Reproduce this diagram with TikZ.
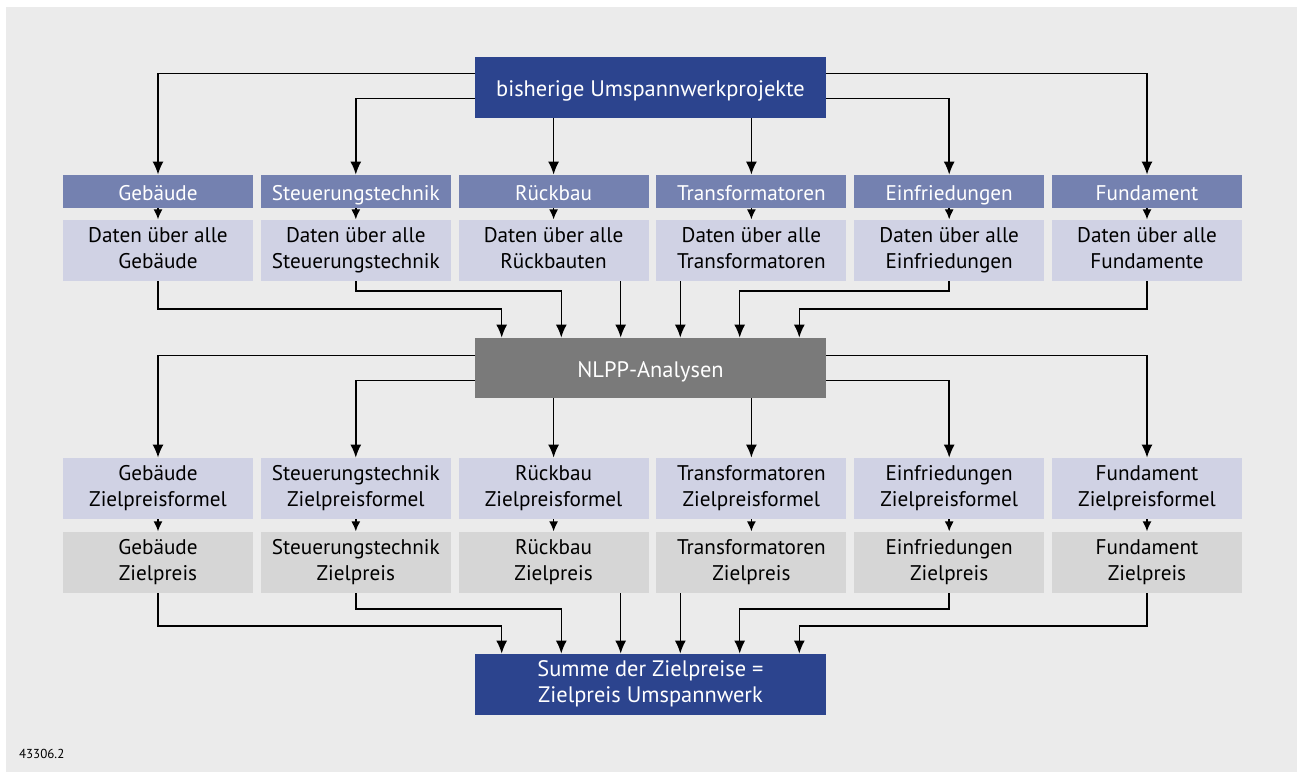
\documentclass[tikz,border=0pt]{standalone}
\usepackage{fontspec}
\setmainfont{PT Sans}
\usetikzlibrary{positioning, arrows.meta}
\definecolor{dunkelblau}{HTML}{2C448E}
\definecolor{mittelblau}{HTML}{7481B0}
\definecolor{hellblau}{HTML}{D0D2E4}
\definecolor{grau}{HTML}{7A7A7A}
\definecolor{hellgrau}{HTML}{D6D6D6}
\definecolor{hgrund}{HTML}{EBEBEB}
\newcommand{\zs}{\rule[-2.6pt]{0pt}{14.6pt}}

\begin{document}
\begin{tikzpicture}[
    x=0.5pt, y=-0.5pt,
    node distance=5.5pt and 3.5pt,
    font=\fontsize{10.6}{13}\selectfont,
    % Stile der Knoten
    box/.style={
        rectangle,
        inner sep=0pt,
        align=center,
        minimum width=95pt,
        execute at begin node=\zs,
        execute at end node=\zs
    },
    hauptbox/.style={box, fill=dunkelblau, text=white, minimum width=175.5pt, minimum height=30.5pt, font=\fontsize{11.2}{13}\selectfont},
    analyse/.style={box, fill=grau, text=white, minimum width=175.5pt, minimum height=30pt, font=\fontsize{11.2}{13}\selectfont},
    kategorie/.style={box, fill=mittelblau, text=white, minimum height=16.5pt},
    daten/.style={box, fill=hellblau, minimum height=30.5pt},
    formel/.style={box, fill=hellblau, minimum height=30.5pt},
    preis/.style={box, fill=hellgrau, minimum height=30.5pt},
    % Stile der Pfeile
    arrow/.style={-{Latex[length=6.5pt,width=5.5pt]}, line width=0.75pt},
    kurzpfeil/.style={-{Latex[length=5pt,width=4.5pt]}, line width=0.75pt}
]

\useasboundingbox (0,0) rectangle (1297,772);
\fill[hgrund] (6,7) rectangle (1297,772);

% -- Obere Reihe --
\node[hauptbox] (prj) at (650.5,87.5) {bisherige Umspannwerkprojekte};

% -- Kategorien --
\node[kategorie] (geb) at (158,191.5) {Gebäude};
\node[kategorie, right=of geb] (steu) {Steuerungstechnik};
\node[kategorie, right=of steu] (rueck) {Rückbau};
\node[kategorie, right=of rueck] (trafo) {Transformatoren};
\node[kategorie, right=of trafo] (einf) {Einfriedungen};
\node[kategorie, right=of einf] (fund) {Fundament};

\node[daten, below=of geb] (gebD) {Daten über alle\\Gebäude};
\node[daten, below=of steu] (steuD) {Daten über alle\\Steuerungstechnik};
\node[daten, below=of rueck] (rueckD) {Daten über alle\\Rückbauten};
\node[daten, below=of trafo] (trafoD) {Daten über alle\\Transformatoren};
\node[daten, below=of einf] (einfD) {Daten über alle\\Einfriedungen};
\node[daten, below=of fund] (fundD) {Daten über alle\\Fundamente};

% -- Mittlere Reihe --
\node[analyse] (nlpp) at (650.5,368) {NLPP-Analysen};

\coordinate (n1) at ([xshift=-74.4pt]nlpp.north);
\coordinate (n2) at ([xshift=-44.6pt]nlpp.north);
\coordinate (n3) at ([xshift=-14.9pt]nlpp.north);
\coordinate (n4) at ([xshift=14.9pt]nlpp.north);
\coordinate (n5) at ([xshift=44.6pt]nlpp.north);
\coordinate (n6) at ([xshift=74.4pt]nlpp.north);

% -- Zielpreisformeln --
\node[formel] (gebF) at (158,488.5) {Gebäude\\Zielpreisformel};
\node[formel, right=of gebF] (steuF) {Steuerungstechnik\\Zielpreisformel};
\node[formel, right=of steuF] (rueckF) {Rückbau\\Zielpreisformel};
\node[formel, right=of rueckF] (trafoF) {Transformatoren\\Zielpreisformel};
\node[formel, right=of trafoF] (einfF) {Einfriedungen\\Zielpreisformel};
\node[formel, right=of einfF] (fundF) {Fundament\\Zielpreisformel};

\node[preis, below=6pt of gebF] (gebP) {Gebäude\\Zielpreis};
\node[preis, below=6pt of steuF] (steuP) {Steuerungstechnik\\Zielpreis};
\node[preis, below=6pt of rueckF] (rueckP) {Rückbau\\Zielpreis};
\node[preis, below=6pt of trafoF] (trafoP) {Transformatoren\\Zielpreis};
\node[preis, below=6pt of einfF] (einfP) {Einfriedungen\\Zielpreis};
\node[preis, below=6pt of fundF] (fundP) {Fundament\\Zielpreis};

% -- Untere Reihe --
\node[hauptbox] (summe) at (650.5,684.5) {Summe der Zielpreise =\\Zielpreis Umspannwerk};

\coordinate (s1) at ([xshift=-74.4pt]summe.north);
\coordinate (s2) at ([xshift=-44.6pt]summe.north);
\coordinate (s3) at ([xshift=-14.9pt]summe.north);
\coordinate (s4) at ([xshift=14.9pt]summe.north);
\coordinate (s5) at ([xshift=44.6pt]summe.north);
\coordinate (s6) at ([xshift=74.4pt]summe.north);

\node[anchor=south west, font=\fontsize{6.5}{7}\selectfont] (nr) at (12,766) {43306.2};

% -- Verbindungen: Projekte zu Kategorien --
\draw[arrow] ([yshift=-8.5pt]prj.north west) -| (geb);
\draw[arrow] ([yshift=-21pt]prj.north west) -| (steu);
\draw[arrow] (prj.south -| rueck) -- (rueck);
\draw[arrow] (prj.south -| trafo) -- (trafo);
\draw[arrow] ([yshift=-21pt]prj.north east) -| (einf);
\draw[arrow] ([yshift=-8.5pt]prj.north east) -| (fund);

\draw[kurzpfeil] (geb) -- (gebD);
\draw[kurzpfeil] (steu) -- (steuD);
\draw[kurzpfeil] (rueck) -- (rueckD);
\draw[kurzpfeil] (trafo) -- (trafoD);
\draw[kurzpfeil] (einf) -- (einfD);
\draw[kurzpfeil] (fund) -- (fundD);

% -- Daten zu NLPP --
\draw[arrow] (gebD.south) -- ++(0,-14pt) -| (n1);
\draw[arrow] (steuD.south) -- ++(0,-5pt) -| (n2);
\draw[arrow] (rueckD.south -| n3) -- (n3);
\draw[arrow] (trafoD.south -| n4) -- (n4);
\draw[arrow] (einfD.south) -- ++(0,-5pt) -| (n5);
\draw[arrow] (fundD.south) -- ++(0,-14pt) -| (n6);

% -- NLPP zu Zielpreisformeln --
\draw[arrow] ([yshift=-9pt]nlpp.north west) -| (gebF);
\draw[arrow] ([yshift=-21.5pt]nlpp.north west) -| (steuF);
\draw[arrow] (nlpp.south -| rueckF) -- (rueckF);
\draw[arrow] (nlpp.south -| trafoF) -- (trafoF);
\draw[arrow] ([yshift=-21.5pt]nlpp.north east) -| (einfF);
\draw[arrow] ([yshift=-9pt]nlpp.north east) -| (fundF);

\draw[kurzpfeil] (gebF) -- (gebP);
\draw[kurzpfeil] (steuF) -- (steuP);
\draw[kurzpfeil] (rueckF) -- (rueckP);
\draw[kurzpfeil] (trafoF) -- (trafoP);
\draw[kurzpfeil] (einfF) -- (einfP);
\draw[kurzpfeil] (fundF) -- (fundP);

% -- Zielpreise zur Summe --
\draw[arrow] (gebP.south) -- ++(0,-16.5pt) -| (s1);
\draw[arrow] (steuP.south) -- ++(0,-8pt) -| (s2);
\draw[arrow] (rueckP.south -| s3) -- (s3);
\draw[arrow] (trafoP.south -| s4) -- (s4);
\draw[arrow] (einfP.south) -- ++(0,-8pt) -| (s5);
\draw[arrow] (fundP.south) -- ++(0,-16.5pt) -| (s6);

\end{tikzpicture}
\end{document}
